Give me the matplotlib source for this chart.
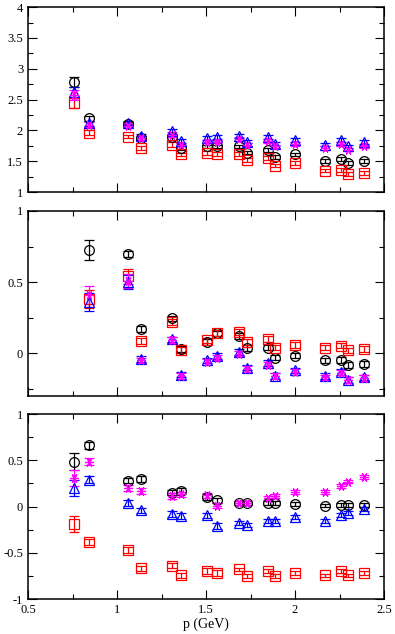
import numpy as np
import matplotlib
matplotlib.use("Agg")
from matplotlib import pyplot as plt
from matplotlib.ticker import MultipleLocator, FuncFormatter

plt.rcParams['font.family'] = ['Liberation Serif', 'DejaVu Serif']

nan = np.nan

# momentum values (GeV)
p = [0.758, 0.844, 1.063, 1.137, 1.307, 1.361, 1.507, 1.560, 1.687,
     1.732, 1.850, 1.889, 1.998, 2.169, 2.257, 2.298, 2.389]

# top panel
top_circ = [2.78, 2.20, 2.10, 1.88, 1.89, 1.71, 1.74, 1.74, 1.74, 1.64, 1.68, 1.57, 1.61, 1.50, 1.54, 1.47, 1.50]
top_sq = [2.44, 1.96, 1.90, 1.72, 1.77, 1.61, 1.63, 1.62, 1.62, 1.52, 1.55, 1.43, 1.47, 1.35, 1.36, 1.29, 1.31]
top_tri = [2.63, 2.12, 2.12, 1.91, 1.99, 1.83, 1.88, 1.89, 1.91, 1.82, 1.89, 1.78, 1.84, 1.77, 1.84, 1.74, 1.81]
top_star = [2.58, 2.09, 2.07, 1.88, 1.93, 1.77, 1.82, 1.82, 1.86, 1.77, 1.83, 1.74, 1.78, 1.72, 1.78, 1.69, 1.74]
top_err = [0.08, 0.04, 0.03, 0.03, 0.04, 0.03, 0.03, 0.03, 0.03, 0.03, 0.03, 0.03, 0.03, 0.03, 0.03, 0.03, 0.03]

# middle panel
mid_circ = [nan, 0.726, 0.70, 0.17, 0.245, 0.028, 0.08, 0.14, 0.124, 0.035, 0.04, -0.03, -0.016, -0.05, -0.047, -0.08, -0.077]
mid_sq = [nan, 0.38, 0.54, 0.086, 0.22, 0.023, 0.09, 0.145, 0.15, 0.08, 0.10, 0.04, 0.058, 0.04, 0.054, 0.02, 0.028]
mid_tri = [nan, 0.36, 0.50, -0.04, 0.098, -0.15, -0.05, -0.02, 0.007, -0.10, -0.07, -0.16, -0.12, -0.16, -0.13, -0.19, -0.17]
mid_star = [nan, 0.41, 0.51, -0.05, 0.093, -0.16, -0.06, -0.03, -0.002, -0.11, -0.08, -0.16, -0.13, -0.17, -0.135, -0.19, -0.175]
mid_err_circ = [nan, 0.07, 0.02, 0.02, 0.02, 0.02, 0.02, 0.02, 0.02, 0.02, 0.02, 0.02, 0.02, 0.02, 0.02, 0.02, 0.02]
mid_err = [nan, 0.065, 0.05, 0.02, 0.02, 0.02, 0.02, 0.02, 0.02, 0.02, 0.02, 0.02, 0.02, 0.02, 0.02, 0.02, 0.02]

# bottom panel
bot_circ = [0.485, 0.66, 0.28, 0.295, 0.15, 0.17, 0.10, 0.065, 0.036, 0.036, 0.036, 0.036, 0.025, 0.01, 0.02, 0.02, 0.02]
bot_sq = [-0.19, -0.385, -0.47, -0.67, -0.64, -0.745, -0.695, -0.72, -0.68, -0.755, -0.70, -0.755, -0.72, -0.745, -0.70, -0.745, -0.72]
bot_tri = [0.20, 0.29, 0.036, -0.043, -0.083, -0.10, -0.097, -0.21, -0.18, -0.20, -0.16, -0.16, -0.115, -0.16, -0.09, -0.07, -0.03]
bot_star = [0.31, 0.485, 0.20, 0.17, 0.115, 0.13, 0.12, 0.01, 0.036, 0.036, 0.09, 0.115, 0.16, 0.16, 0.22, 0.27, 0.317]
bot_err_circ = [0.095, 0.035, 0.03, 0.03, 0.03, 0.03, 0.03, 0.03, 0.02, 0.02, 0.02, 0.02, 0.02, 0.02, 0.02, 0.02, 0.02]
bot_err = [0.09, 0.035, 0.03, 0.03, 0.03, 0.03, 0.03, 0.03, 0.02, 0.02, 0.02, 0.02, 0.02, 0.02, 0.02, 0.02, 0.02]

star_marker = (6, 2, 90)


def draw_set(ax, y, err, color, marker, ms=7):
    ax.errorbar(p, y, yerr=err, linestyle='none', marker=marker, mfc='none', mec=color,
                ecolor=color, ms=ms, mew=0.9, elinewidth=0.9, capsize=3.5, capthick=0.9)


def style_axes(ax, ylim, ymaj):
    ax.set_xlim(0.5, 2.5)
    ax.set_ylim(*ylim)
    ax.xaxis.set_major_locator(MultipleLocator(0.5))
    ax.xaxis.set_minor_locator(MultipleLocator(0.25))
    ax.yaxis.set_major_locator(MultipleLocator(ymaj))
    ax.yaxis.set_minor_locator(MultipleLocator(ymaj / 2))
    ax.tick_params(which='both', direction='in', top=True, right=True, width=0.8, labelsize=9)
    ax.tick_params(which='major', length=6.5)
    ax.tick_params(which='minor', length=3.3)
    for s in ax.spines.values():
        s.set_linewidth(1.1)
    ax.yaxis.set_major_formatter(FuncFormatter(lambda v, _: '%g' % v))


fig = plt.figure(figsize=(3.95, 6.34), dpi=100)
left, width, height = 0.0709, 0.9013, 0.2918
ax1 = fig.add_axes([left, 0.697, width, height])
ax2 = fig.add_axes([left, 0.3754, width, height])
ax3 = fig.add_axes([left, 0.0552, width, height])

draw_set(ax1, top_circ, top_err, 'black', 'o')
draw_set(ax1, top_sq, top_err, 'red', 's')
draw_set(ax1, top_tri, top_err, 'blue', '^')
draw_set(ax1, top_star, top_err, 'magenta', star_marker, 6.5)
style_axes(ax1, (1, 4), 0.5)
ax1.set_xticklabels([])

draw_set(ax2, mid_circ, mid_err_circ, 'black', 'o')
draw_set(ax2, mid_sq, mid_err, 'red', 's')
draw_set(ax2, mid_tri, mid_err, 'blue', '^')
draw_set(ax2, mid_star, mid_err, 'magenta', star_marker, 6.5)
style_axes(ax2, (-0.3, 1), 0.5)
ax2.set_xticklabels([])

draw_set(ax3, bot_circ, bot_err_circ, 'black', 'o')
draw_set(ax3, bot_sq, bot_err, 'red', 's')
draw_set(ax3, bot_tri, bot_err, 'blue', '^')
draw_set(ax3, bot_star, bot_err, 'magenta', star_marker, 6.5)
style_axes(ax3, (-1, 1), 0.5)
ax3.xaxis.set_major_formatter(FuncFormatter(lambda v, _: '%g' % v))
ax3.set_xlabel('p (GeV)', fontsize=10, labelpad=1)

fig.savefig('out.png', dpi=100)
